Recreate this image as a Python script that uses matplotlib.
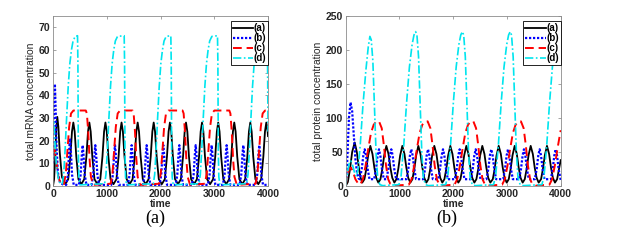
import matplotlib

matplotlib.use("Agg")
import matplotlib.pyplot as plt

# ---- (a) total mRNA concentration ----
mrna_a_t = [0, 20, 40, 60, 80, 100, 125, 165, 228,
            283, 323, 353, 378, 403, 433, 473, 527,
            581, 621, 651, 676, 701, 731, 771, 826,
            880, 920, 950, 975, 1000, 1030, 1070, 1125,
            1180, 1220, 1250, 1275, 1300, 1330, 1370, 1425,
            1480, 1520, 1550, 1575, 1600, 1630, 1670, 1724,
            1778, 1818, 1848, 1873, 1898, 1928, 1968, 2024,
            2080, 2120, 2150, 2175, 2200, 2230, 2270, 2325,
            2379, 2419, 2449, 2474, 2499, 2529, 2569, 2623,
            2677, 2717, 2747, 2772, 2797, 2827, 2867, 2922,
            2978, 3018, 3048, 3073, 3098, 3128, 3168, 3222,
            3277, 3317, 3347, 3372, 3397, 3427, 3467, 3521,
            3575, 3615, 3645, 3670, 3695, 3725, 3765, 3819,
            3873, 3913, 3943, 3968, 3993, 4000]
mrna_a_y = [0, 3, 12, 25, 30.5, 26, 15, 4, 0.8] + \
           [3, 13, 24, 28, 24, 13, 3, 0.8] * 12 + \
           [3, 13, 24, 28, 24, 22]

mrna_b_t = [0, 12, 25, 35, 48, 65, 90, 130, 200,
            246, 278, 301, 316, 331, 354, 386,
            482, 514, 537, 552, 567, 590, 622,
            717, 749, 772, 787, 802, 825, 857,
            1083, 1115, 1138, 1153, 1168, 1191, 1223,
            1393, 1425, 1448, 1463, 1478, 1501, 1533,
            1672, 1704, 1727, 1742, 1757, 1780, 1812,
            1982, 2014, 2037, 2052, 2067, 2090, 2122,
            2280, 2312, 2335, 2350, 2365, 2388, 2420,
            2584, 2616, 2639, 2654, 2669, 2692, 2724,
            2881, 2913, 2936, 2951, 2966, 2989, 3021,
            3160, 3192, 3215, 3230, 3245, 3268, 3300,
            3470, 3502, 3525, 3540, 3555, 3578, 3610,
            3767, 3799, 3822, 3837, 3852, 3875, 3907,
            4000]
mrna_b_y = [10, 30, 43, 45, 35, 18, 6, 1.5, 0.5] + \
           [0.5, 5, 16, 21, 16, 5, 0.5] + \
           [0.5, 5, 14, 18, 14, 5, 0.5] * 12 + [0.5]

mrna_c_t = [0, 30, 60, 100, 150,
            205, 240, 270, 300, 335, 380, 610, 630, 655, 680, 705, 750,
            1073, 1108, 1138, 1168, 1203, 1248, 1480, 1500, 1525, 1550, 1575, 1620,
            1972, 2007, 2037, 2067, 2102, 2147, 2410, 2430, 2455, 2480, 2505, 2550,
            2827, 2862, 2892, 2922, 2957, 3002, 3280, 3300, 3325, 3350, 3375, 3420,
            3770, 3805, 3835, 3865, 3900, 3945, 4000]
mrna_c_y = [15, 16, 11, 4, 0.5] + \
           [1, 6, 16, 26, 32, 33.3, 33.3, 32, 24, 12, 4, 0.5] * 4 + \
           [1, 6, 16, 26, 32, 33.3, 33.3]

mrna_d_t = [0, 10, 30, 60, 100, 140,
            173, 198, 223, 253, 283, 313, 343, 373, 413, 456, 463, 468, 471, 481, 501,
            960, 985, 1010, 1040, 1070, 1100, 1130, 1160, 1200, 1324, 1331, 1336, 1339, 1349, 1369,
            1866, 1891, 1916, 1946, 1976, 2006, 2036, 2066, 2106, 2192, 2199, 2204, 2207, 2217, 2237,
            2715, 2740, 2765, 2795, 2825, 2855, 2885, 2915, 2955, 3060, 3067, 3072, 3075, 3085, 3105,
            3602, 3627, 3652, 3682, 3712, 3742, 3772, 3802, 3842, 3985, 3993, 4000]
mrna_d_y = [25, 29, 22, 10, 3, 0.8] + \
           [1, 5, 15, 30, 44, 54, 60, 64, 66, 66.3, 55, 30, 15, 4, 0.5] * 4 + \
           [1, 5, 15, 30, 44, 54, 60, 64, 66, 66.3, 50, 24]

# ---- (b) total protein concentration ----
prot_a_t = [0, 40, 80, 120, 167, 207, 242, 277, 308,
            348, 383, 418, 458, 498, 533, 568, 607,
            646, 681, 716, 756, 796, 831, 866, 905,
            943, 978, 1013, 1053, 1093, 1128, 1163, 1202,
            1241, 1276, 1311, 1351, 1391, 1426, 1461, 1500,
            1538, 1573, 1608, 1648, 1688, 1723, 1758, 1797,
            1836, 1871, 1906, 1946, 1986, 2021, 2056, 2095,
            2134, 2169, 2204, 2244, 2284, 2319, 2354, 2393,
            2431, 2466, 2501, 2541, 2581, 2616, 2651, 2690,
            2736, 2771, 2806, 2846, 2886, 2921, 2956, 2995,
            3033, 3068, 3103, 3143, 3183, 3218, 3253, 3292,
            3331, 3366, 3401, 3441, 3481, 3516, 3551, 3590,
            3634, 3669, 3704, 3744, 3784, 3819, 3854, 3893,
            3933, 3968, 4000]
prot_a_y = [0, 6, 25, 50, 64, 50, 28, 12, 5] + \
           [10, 25, 45, 59, 47, 27, 12, 5] * 12 + \
           [10, 25, 38]

prot_b_t = [0, 30, 60, 90, 120, 150, 180, 210, 240,
            263, 298, 328, 353, 378, 408, 443,
            529, 564, 594, 619, 644, 674, 709,
            758, 793, 823, 848, 873, 903, 938,
            1130, 1165, 1195, 1220, 1245, 1275, 1310,
            1441, 1476, 1506, 1531, 1556, 1586, 1621,
            1720, 1755, 1785, 1810, 1835, 1865, 1900,
            2030, 2065, 2095, 2120, 2145, 2175, 2210,
            2328, 2363, 2393, 2418, 2443, 2473, 2508,
            2618, 2653, 2683, 2708, 2733, 2763, 2798,
            2929, 2964, 2994, 3019, 3044, 3074, 3109,
            3226, 3261, 3291, 3316, 3341, 3371, 3406,
            3518, 3553, 3583, 3608, 3633, 3663, 3698,
            3816, 3851, 3881, 3906, 3931, 3961, 3996,
            4000]
prot_b_y = [0, 40, 100, 123, 110, 75, 40, 20, 11] + \
           [10, 25, 45, 54, 45, 25, 10] * 13 + [9]

prot_c_t = [0, 30, 60, 100, 140, 180, 220,
            270, 320, 370, 420, 470, 520, 570, 620, 670, 710, 750, 790, 830, 890,
            1175, 1225, 1275, 1325, 1375, 1425, 1475, 1525, 1575, 1615, 1655, 1695, 1735, 1795,
            2025, 2075, 2125, 2175, 2225, 2275, 2325, 2375, 2425, 2465, 2505, 2545, 2585, 2645,
            2910, 2960, 3010, 3060, 3110, 3160, 3210, 3260, 3310, 3350, 3390, 3430, 3470, 3530,
            3790, 3840, 3890, 3940, 3990, 4000]
prot_c_y = [0, 15, 24, 27, 20, 10, 5] + \
           [2, 10, 30, 55, 78, 90, 95, 95, 85, 60, 30, 10, 3, 0.5] * 4 + \
           [2, 10, 30, 55, 78, 82]

prot_d_t = [0, 30, 60, 95, 130, 170, 200, 230, 270, 320, 375, 420, 450, 475, 505, 535, 565, 595, 635, 690,
            990, 1030, 1080, 1130, 1185, 1235, 1270, 1300, 1325, 1355, 1385, 1415, 1445, 1485, 1540,
            1860, 1900, 1950, 2000, 2055, 2105, 2140, 2170, 2195, 2225, 2255, 2285, 2315, 2355, 2410,
            2750, 2790, 2840, 2890, 2945, 2995, 3030, 3060, 3085, 3115, 3145, 3175, 3205, 3245, 3300,
            3650, 3690, 3740, 3790, 3845, 3895, 3930, 3960, 4000]
prot_d_y = [0, 18, 32, 37, 30, 18, 14, 25, 60, 118, 170, 205, 220, 215, 184, 116, 48, 12, 2, 0.5] + \
           [2, 15, 60, 120, 175, 208, 222, 227, 222, 190, 120, 50, 12, 2, 0.5] * 3 + \
           [2, 15, 60, 120, 175, 208, 222, 228, 226]

labels = ["(a)", "(b)", "(c)", "(d)"]
xticks = [0, 1000, 2000, 3000, 4000]

plt.rcParams["font.family"] = ["Liberation Sans", "DejaVu Sans"]


def draw_panel(ax, series, ymax, yticks, ylabel):
    styles = [
        dict(color="black", lw=1.3, ls="-"),
        dict(color="#0000ff", lw=1.6, ls=(0, (1, 0.8))),
        dict(color="#ff0000", lw=1.4, ls=(0, (4.5, 2.5))),
        dict(color="#00e5ee", lw=1.2, ls=(0, (5, 1.5, 1, 1.5))),
    ]
    for (t, y), st, lab in zip(series, styles, labels):
        ax.plot(t, y, label=lab, **st)

    ax.set_xlim(0, 4000)
    ax.set_ylim(0, ymax)
    ax.set_xticks(xticks)
    ax.set_yticks(yticks)
    ax.tick_params(direction="in", length=2.5, width=0.5, top=True, right=True,
                   labelsize=7.5, colors="#262626", pad=2, color="#808080")
    for lab in ax.get_xticklabels() + ax.get_yticklabels():
        lab.set_fontweight("bold")
    for sp in ax.spines.values():
        sp.set_color("#8c8c8c")
        sp.set_linewidth(0.6)
    ax.set_xlabel("time", fontsize=7.5, fontweight="bold", color="#262626", labelpad=0)
    ax.set_ylabel(ylabel, fontsize=7.5, color="#262626", labelpad=2)

    leg = ax.legend(loc="upper right", bbox_to_anchor=(1.0, 0.968), fontsize=7,
                    handlelength=2.1, handletextpad=0.05, labelspacing=0.0,
                    borderpad=0.2, borderaxespad=0, fancybox=False, framealpha=1)
    leg.get_frame().set_edgecolor("black")
    leg.get_frame().set_linewidth(0.6)
    for txt in leg.get_texts():
        txt.set_fontweight("bold")


def main():
    fig = plt.figure(figsize=(6.2, 2.43), dpi=100)
    ax1 = fig.add_axes([0.0855, 0.2346, 0.3468, 0.6996])
    ax2 = fig.add_axes([0.5576, 0.2346, 0.3468, 0.6996])

    draw_panel(ax1, [(mrna_a_t, mrna_a_y), (mrna_b_t, mrna_b_y),
                     (mrna_c_t, mrna_c_y), (mrna_d_t, mrna_d_y)],
               75, list(range(0, 71, 10)), "total mRNA concentration")
    draw_panel(ax2, [(prot_a_t, prot_a_y), (prot_b_t, prot_b_y),
                     (prot_c_t, prot_c_y), (prot_d_t, prot_d_y)],
               250, list(range(0, 251, 50)), "total protein concentration")

    fig.text(0.25, 0.10, "(a)", ha="center", va="center", fontsize=13,
             family=["Liberation Serif", "DejaVu Serif"])
    fig.text(0.721, 0.10, "(b)", ha="center", va="center", fontsize=13,
             family=["Liberation Serif", "DejaVu Serif"])

    fig.savefig("out.png", dpi=100)
    plt.close(fig)


if __name__ == "__main__":
    main()
